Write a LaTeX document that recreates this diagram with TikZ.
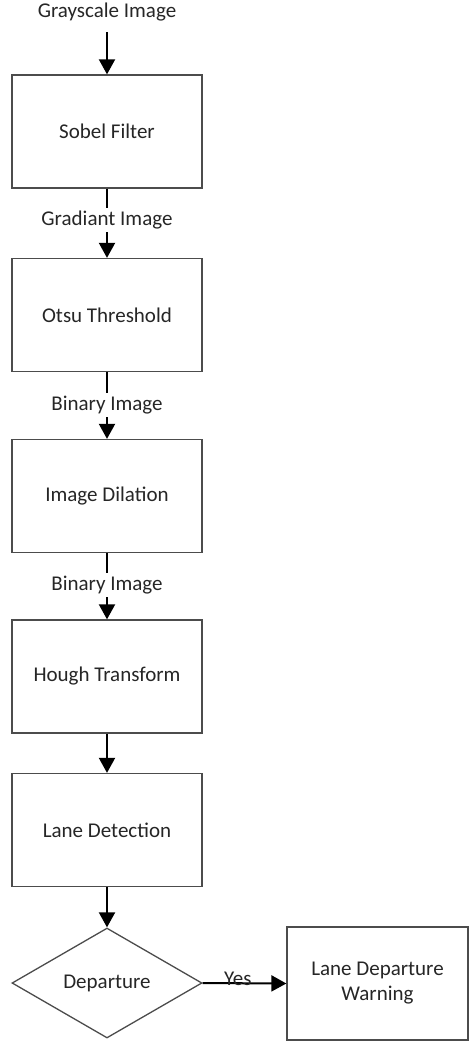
\documentclass[tikz,border=0pt]{standalone}
\usepackage{fontspec}
\setmainfont{Carlito}
\usetikzlibrary{shapes.geometric,arrows.meta}
\begin{document}
\begin{tikzpicture}[x=1pt,y=-1pt,
  every node/.style={font=\fontsize{21}{25}\selectfont, text=black!85},
  procbox/.style={draw=black!70, line width=1.3pt, minimum width=190pt, minimum height=113pt, inner sep=0pt, fill=white},
  decbox/.style={draw=black!70, line width=1.3pt, diamond, minimum width=190pt, minimum height=110pt, inner sep=0pt, fill=white},
  lbl/.style={inner sep=0pt, minimum height=24pt},
  arr/.style={line width=2pt, black, -{Triangle[width=16pt,length=15pt]}},
  ln/.style={line width=2pt, black}]
\useasboundingbox (0,0) rectangle (469,1044);
\node[lbl] (gray) at (107,12) {Grayscale Image};
\node[procbox] (sobel) at (107,131.5) {Sobel Filter};
\node[lbl] (grad) at (107,220) {Gradiant Image};
\node[procbox] (otsu) at (107,315) {Otsu Threshold};
\node[lbl] (bin1) at (107,405) {Binary Image};
\node[procbox] (dil) at (107,496) {Image Dilation};
\node[lbl] (bin2) at (107,585) {Binary Image};
\node[procbox] (hough) at (107,676.5) {Hough Transform};
\node[procbox] (lane) at (107,830) {Lane Detection};
\node[decbox] (dep) at (107,983) {Departure};
\node[procbox, minimum width=181pt, align=center] (warn) at (377.5,983.5) {Lane Departure\\Warning};
\draw[arr, shorten <=8pt] (gray.south) -- (sobel.north);
\draw[ln] (sobel.south) -- (grad.north);
\draw[arr] (grad.south) -- (otsu.north);
\draw[ln] (otsu.south) -- (bin1.north);
\draw[arr] (bin1.south) -- (dil.north);
\draw[ln] (dil.south) -- (bin2.north);
\draw[arr] (bin2.south) -- (hough.north);
\draw[arr] (hough.south) -- (lane.north);
\draw[arr] (lane.south) -- (dep.north);
\draw[arr] (dep.east) -- node[pos=0.42, yshift=4pt, inner sep=0pt] (yes) {Yes} (warn.west);
\end{tikzpicture}
\end{document}
